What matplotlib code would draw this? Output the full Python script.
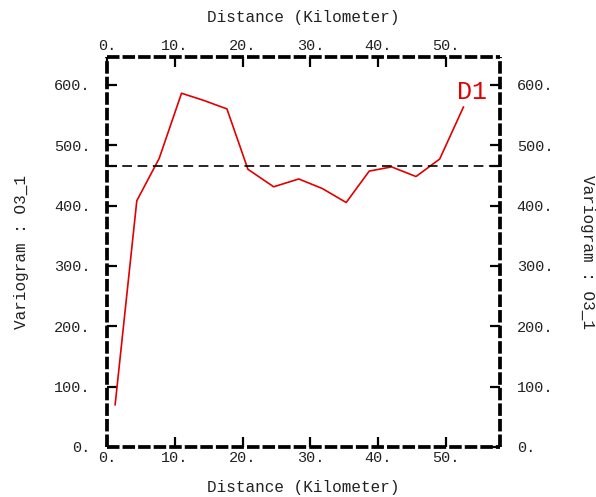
import matplotlib
matplotlib.use("Agg")
import matplotlib.pyplot as plt
from matplotlib.ticker import FuncFormatter, FixedLocator

plt.rcParams["font.family"] = ["Liberation Mono", "DejaVu Sans Mono"]
plt.rcParams["lines.scale_dashes"] = False

# Experimental variogram of O3_1 (direction D1)
lag_km = [1.2, 4.4, 7.7, 11.0, 14.3, 17.7, 20.8, 24.6, 28.3, 31.8,
          35.3, 38.7, 42.0, 45.6, 49.1, 52.6]
gamma = [70, 408, 478, 586, 574, 560, 460, 431, 444, 428,
         405, 457, 464, 448, 477, 563]
sill = 465
x_ticks = [0, 10, 20, 30, 40, 50]
y_ticks = [0, 100, 200, 300, 400, 500, 600]
x_max, y_max = 58, 646

x_label = "Distance (Kilometer)"
y_label = "Variogram : O3_1"
series_name = "D1"
line_color = "#e00000"
text_color = "#222222"

fmt = FuncFormatter(lambda v, pos: f"{v:.0f}.")

fig = plt.figure(figsize=(5.96, 4.97), dpi=100)
ax = fig.add_axes([107 / 596, 50 / 497, 393 / 596, 390 / 497])

ax.plot(lag_km, gamma, color=line_color, lw=1.2, clip_on=False)
ax.axhline(sill, color="black", lw=1.2, dashes=(7, 4))
ax.annotate(series_name, (lag_km[-1], gamma[-1]), xytext=(6, 6),
            textcoords="offset points", color=line_color,
            fontsize=18, ha="center", va="baseline")

ax.set_xlim(0, x_max)
ax.set_ylim(0, y_max)

# Heavy dashed frame
for sp in ax.spines.values():
    sp.set_linewidth(2.7)
    sp.set_linestyle((0, (9, 2.2)))
    sp.set_capstyle("butt")
    sp.set_color("black")

tick_kw = dict(direction="in", length=7, width=1.6, labelsize=11,
               colors="black", labelcolor=text_color)
ax.xaxis.set_major_locator(FixedLocator(x_ticks))
ax.yaxis.set_major_locator(FixedLocator(y_ticks))
ax.yaxis.set_minor_locator(FixedLocator([sill]))
ax.xaxis.set_major_formatter(fmt)
ax.yaxis.set_major_formatter(fmt)
ax.tick_params(axis="x", which="major", top=True, bottom=True,
               labeltop=True, labelbottom=True, pad=3, **tick_kw)
ax.tick_params(axis="y", which="major", left=True, right=True,
               labelleft=True, labelright=True, pad=12, **tick_kw)
ax.tick_params(axis="y", which="minor", left=True, right=True,
               direction="in", length=7, width=1.6)

ax.set_xlabel(x_label, fontsize=11.5, labelpad=11, color=text_color)
ax.set_ylabel(y_label, fontsize=11.5, labelpad=18, color=text_color)

# Mirrored axis titles on the top and right
ax.text(0.5, 1.0 + 39 / 390, x_label, transform=ax.transAxes,
        ha="center", va="center", fontsize=11.5, color=text_color)
ax.text(1.0 + 88 / 393, 0.5, y_label, transform=ax.transAxes,
        ha="center", va="center", rotation=270, fontsize=11.5,
        color=text_color)

fig.savefig("out.png", dpi=100)
